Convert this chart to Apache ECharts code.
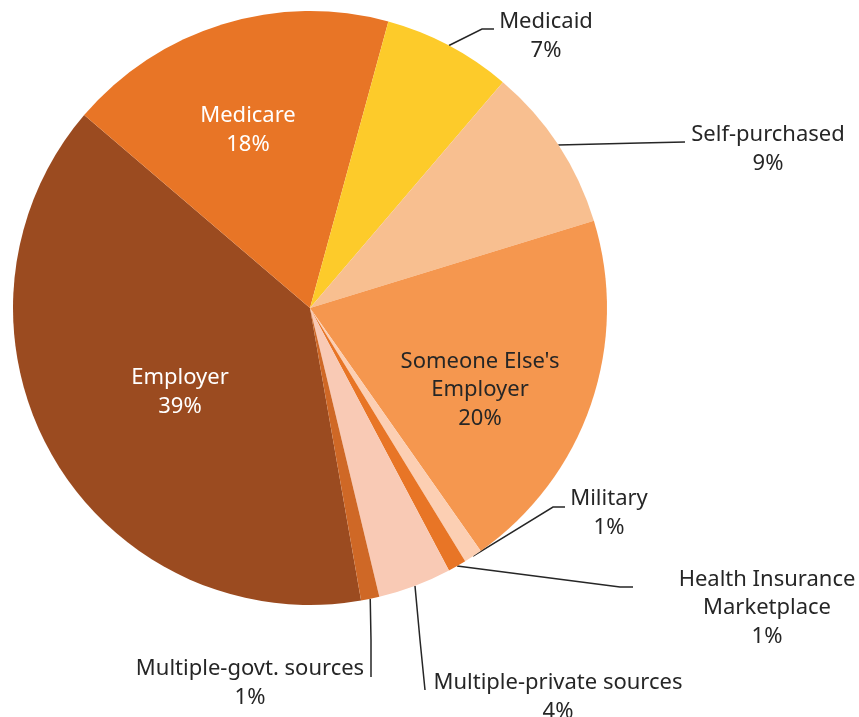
<!DOCTYPE html>
<html>
<head>
<meta charset="utf-8">
<script src="https://cdn.jsdelivr.net/npm/echarts@6/dist/echarts.min.js"></script>
<style>
  html, body { margin: 0; padding: 0; background: #ffffff; }
  #chart { width: 859px; height: 717px; }
</style>
</head>
<body>
<div id="chart"></div>
<script>
// Sources of health insurance coverage (share of respondents, %)
const categories = [
  'Employer',
  'Medicare',
  'Medicaid',
  'Self-purchased',
  "Someone Else's Employer",
  'Military',
  'Health Insurance Marketplace',
  'Multiple-private sources',
  'Multiple-govt. sources'
];
const shares = [39, 18, 7, 9, 20, 1, 1, 4, 1];
const labelText = [
  'Employer',
  'Medicare',
  'Medicaid',
  'Self-purchased',
  "Someone Else's\nEmployer",
  'Military',
  'Health Insurance\nMarketplace',
  'Multiple-private sources',
  'Multiple-govt. sources'
];
const sliceColors = [
  '#9B4B20', '#E87526', '#FDCB2A', '#F8BF90', '#F5974F',
  '#FCCFB3', '#E87526', '#F9CAB5', '#CF6826'
];

// label placement: inside labels sit in their slice, outside labels get an elbowed leader
const labelPlacement = [
  { inside: true, color: '#ffffff', x: 180, y: 392 },
  { inside: true, color: '#ffffff', x: 248, y: 130 },
  { x: 546, y: 36, elbow: [482, 29], end: [494, 29] },
  { x: 768, y: 149, elbow: [640, 143], end: [685, 142] },
  { inside: true, color: '#262626', x: 480, y: 390 },
  { x: 609, y: 513, elbow: [553, 507], end: [565, 507] },
  { x: 767, y: 608, elbow: [620, 587], end: [633, 587] },
  { x: 558, y: 697, elbow: [420, 640], end: [425, 690] },
  { x: 250, y: 683, elbow: [371, 640], end: [371, 677] }
];

const fontFamily = '"Noto Sans", "Open Sans", sans-serif';

const chart = echarts.init(document.getElementById('chart'), null, { renderer: 'canvas' });

const data = categories.map((name, i) => {
  const pl = labelPlacement[i];
  return {
    name: name,
    value: shares[i],
    itemStyle: { color: sliceColors[i] },
    label: pl.inside
      ? { position: 'inside', color: pl.color }
      : { position: 'outside', color: '#262626' },
    labelLine: { show: !pl.inside }
  };
});

chart.setOption({
  animation: false,
  backgroundColor: '#ffffff',
  series: [{
    type: 'pie',
    center: [310, 308],
    radius: 297,
    startAngle: 279.9,
    clockwise: true,
    avoidLabelOverlap: false,
    data: data,
    itemStyle: { borderWidth: 0 },
    label: {
      formatter: p => labelText[p.dataIndex] + '\n' + p.value + '%',
      fontFamily: fontFamily,
      fontSize: 22,
      lineHeight: 28.5,
      align: 'center'
    },
    labelLine: {
      length: 10,
      length2: 10,
      lineStyle: { color: '#262626', width: 1.5 }
    },
    labelLayout: function (params) {
      const pl = labelPlacement[params.dataIndex];
      const out = { x: pl.x, y: pl.y, align: 'center', verticalAlign: 'middle' };
      if (!pl.inside && params.labelLinePoints) {
        const p0 = params.labelLinePoints[0];
        out.labelLinePoints = [[p0[0], p0[1]], pl.elbow, pl.end];
      }
      return out;
    }
  }]
});
</script>
</body>
</html>
